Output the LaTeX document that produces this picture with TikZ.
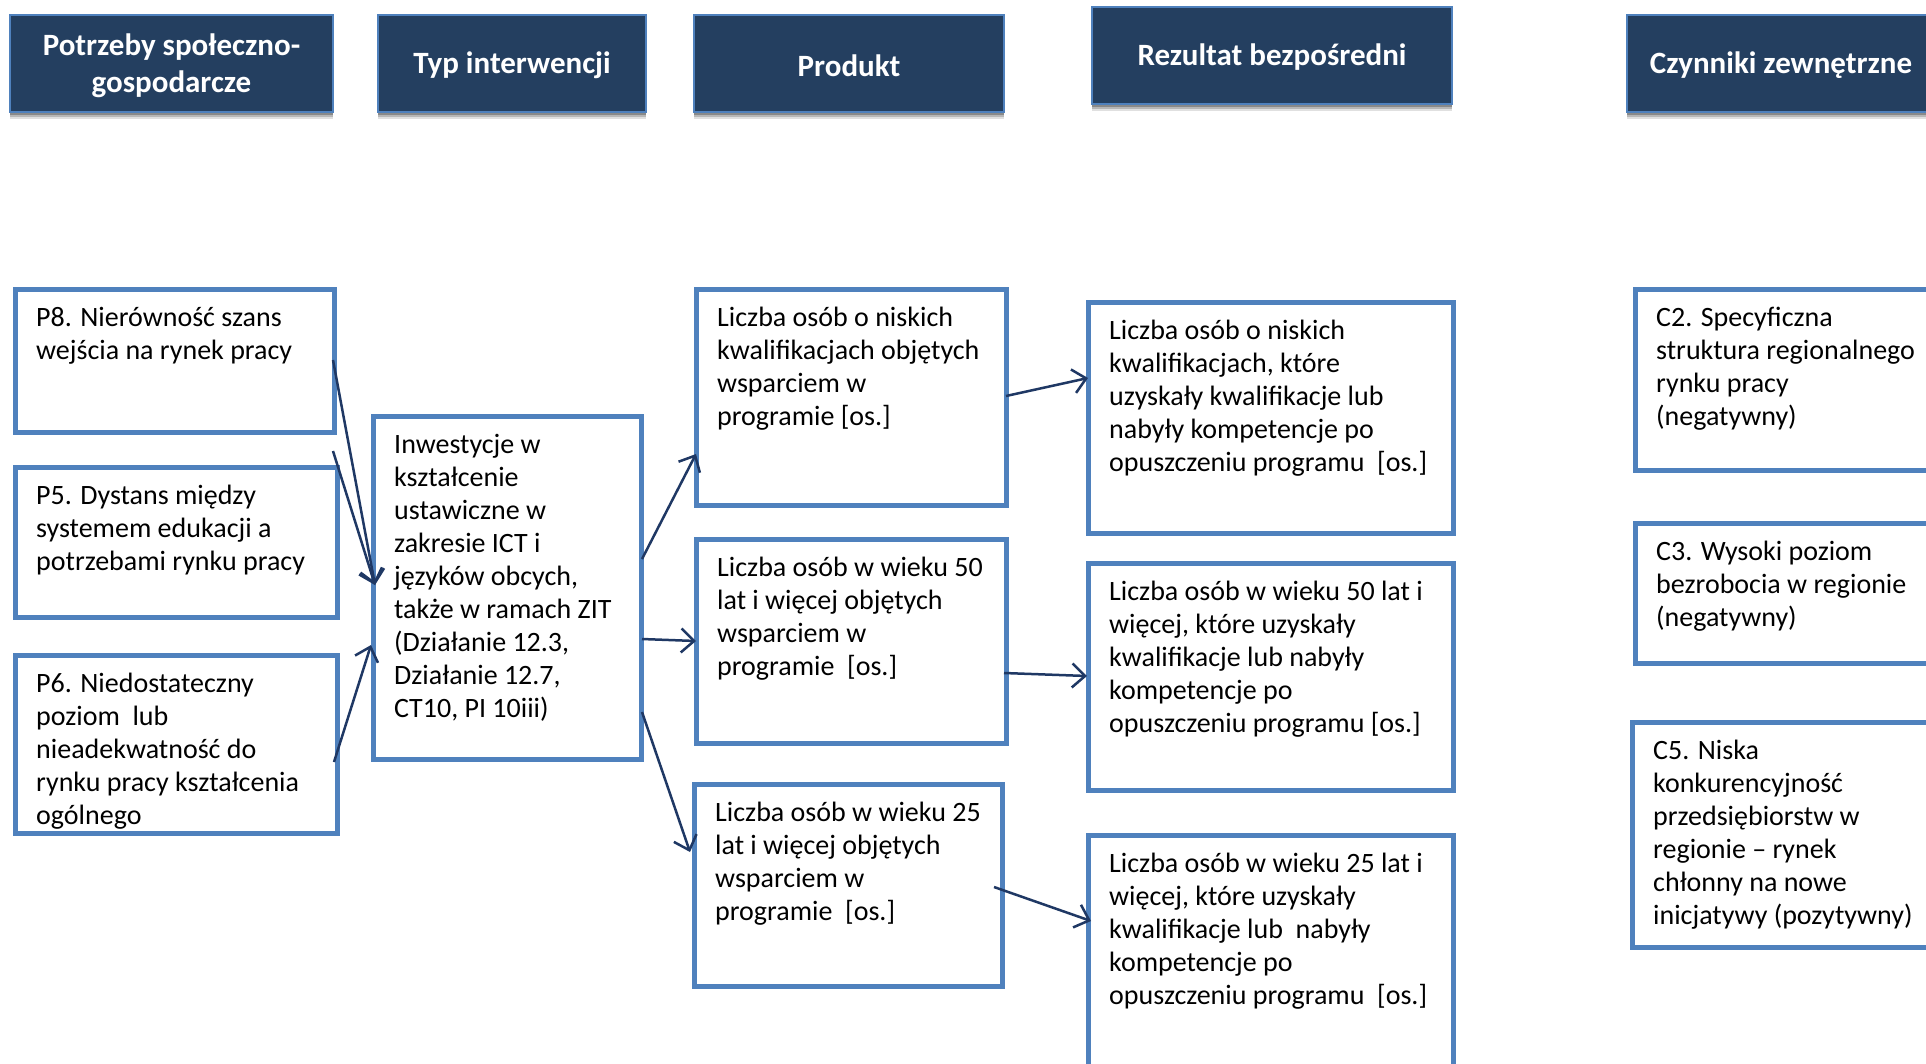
\documentclass[tikz,border=0pt]{standalone}
\usepackage{fontspec}
\setmainfont{Carlito}
\usetikzlibrary{arrows.meta,calc,shadows}
\definecolor{hdrfill}{RGB}{36,63,96}
\definecolor{hdrline}{RGB}{79,129,189}
\definecolor{boxblue}{RGB}{79,129,189}
\definecolor{arrowc}{RGB}{31,56,100}
\tikzset{
  hdr/.style={draw=hdrline, line width=1.5pt, fill=hdrfill, text=white,
    inner sep=0pt, outer sep=0pt, anchor=north west,
    drop shadow={shadow xshift=0pt, shadow yshift=-7pt, opacity=0.12, fill=black},
    drop shadow={shadow xshift=0pt, shadow yshift=-5pt, opacity=0.18, fill=black},
    drop shadow={shadow xshift=0pt, shadow yshift=-3pt, opacity=0.25, fill=black}},
  hdrtxt/.style={font=\bfseries\fontsize{31}{37}\selectfont, text=white, align=center, inner sep=0pt},
  bx/.style={draw=boxblue, line width=5pt, inner sep=0pt, outer sep=0pt, anchor=north west},
  txt/.style={font=\fontsize{28}{33}\selectfont, align=left, inner sep=0pt, anchor=north west},
  arr/.style={draw=arrowc, line width=2.5pt, -{Straight Barb[length=13pt,width=24pt,line width=2.5pt]}}
}
\newcommand\mybox[6]{%
  \node[bx, minimum width={#4pt-#2pt}, minimum height={#5pt-#3pt}] (#1) at (#2,#3) {};
  \node[txt] (#1t) at ($(#1.north west)+(21,14)$) {\strut #6};
}
\newcommand\myhdr[6]{%
  \node[hdr, minimum width={#4pt-#2pt}, minimum height={#5pt-#3pt}] (#1) at (#2,#3) {};
  \node[hdrtxt] (#1t) at ($(#1.center)+(0,2)$) {#6};
}
\begin{document}
\begin{tikzpicture}[x=1pt,y=-1pt]
\clip (0,0) rectangle (1926,1063);
\fill[white] (0,0) rectangle (1926,1063);
% headers
\myhdr{h1}{10}{15}{333}{112}{Potrzeby społeczno-\\gospodarcze}
\myhdr{h2}{378}{15}{646}{112}{Typ interwencji}
\myhdr{h3}{694}{15}{1004}{112}{Produkt}
\myhdr{h4}{1092}{7}{1452}{104}{Rezultat bezpośredni}
\myhdr{h5}{1627}{15}{1935}{112}{Czynniki zewnętrzne}
% needs
\mybox{p8}{15}{289}{334}{432}{P8. Nierówność szans\\wejścia na rynek pracy}
\mybox{p5}{15}{467}{337}{617}{P5. Dystans między\\systemem edukacji a\\potrzebami rynku pracy}
\mybox{p6}{15}{655}{337}{833}{P6. Niedostateczny\\poziom\ \ lub\\nieadekwatność do\\rynku pracy kształcenia\\ogólnego}
% intervention
\mybox{typ}{373}{416}{641}{759}{Inwestycje w\\kształcenie\\ustawiczne w\\zakresie ICT i\\języków obcych,\\także w ramach ZIT\\(Działanie 12.3,\\Działanie 12.7,\\CT10, PI 10iii)}
% products
\mybox{pr1}{696}{289}{1006}{505}{Liczba osób o niskich\\kwalifikacjach objętych\\wsparciem w\\programie [os.]}
\mybox{pr2}{696}{539}{1006}{743}{Liczba osób w wieku 50\\lat i więcej objętych\\wsparciem w\\programie\ \ [os.]}
\mybox{pr3}{694}{784}{1002}{986}{Liczba osób w wieku 25\\lat i więcej objętych\\wsparciem w\\programie\ \ [os.]}
% results
\mybox{r1}{1088}{302}{1453}{533}{Liczba osób o niskich\\kwalifikacjach, które\\uzyskały kwalifikacje lub\\nabyły kompetencje po\\opuszczeniu programu\ \ [os.]}
\mybox{r2}{1088}{563}{1453}{790}{Liczba osób w wieku 50 lat i\\więcej, które uzyskały\\kwalifikacje lub nabyły\\kompetencje po\\opuszczeniu programu [os.]}
\mybox{r3}{1088}{835}{1453}{1090}{Liczba osób w wieku 25 lat i\\więcej, które uzyskały\\kwalifikacje lub\ \ nabyły\\kompetencje po\\opuszczeniu programu\ \ [os.]}
% external factors
\mybox{c2}{1635}{289}{1965}{470}{C2. Specyficzna\\struktura regionalnego\\rynku pracy\\(negatywny)}
\mybox{c3}{1635}{523}{1965}{663}{C3. Wysoki poziom\\bezrobocia w regionie\\(negatywny)}
\mybox{c5}{1632}{722}{1965}{947}{C5. Niska\\konkurencyjność\\przedsiębiorstw w\\regionie – rynek\\chłonny na nowe\\inicjatywy (pozytywny)}
% arrows
\draw[arr] ($(p8.north east)+(-1,71)$) -- ($(typ.north west)+(2,169)$);
\draw[arr] ($(p5.north east)+(-4,-16)$) -- ($(typ.north west)+(2,169)$);
\draw[arr] ($(p6.north east)+(-3,107)$) -- ($(typ.north west)+(-2,229)$);
\draw[arr] ($(typ.north east)+(1,143)$) -- ($(pr1.north west)+(0,165)$);
\draw[arr] ($(typ.north east)+(1,223)$) -- ($(pr2.north west)+(0,102)$);
\draw[arr] ($(typ.north east)+(1,296)$) -- ($(pr3.north west)+(-4,68)$);
\draw[arr] ($(pr1.north east)+(0,107)$) -- ($(r1.north west)+(0,76)$);
\draw[arr] ($(pr2.north east)+(-2,134)$) -- ($(r2.north west)+(-1,113)$);
\draw[arr] ($(pr3.north east)+(-8,103)$) -- ($(r3.north west)+(3,86)$);
\end{tikzpicture}
\end{document}
